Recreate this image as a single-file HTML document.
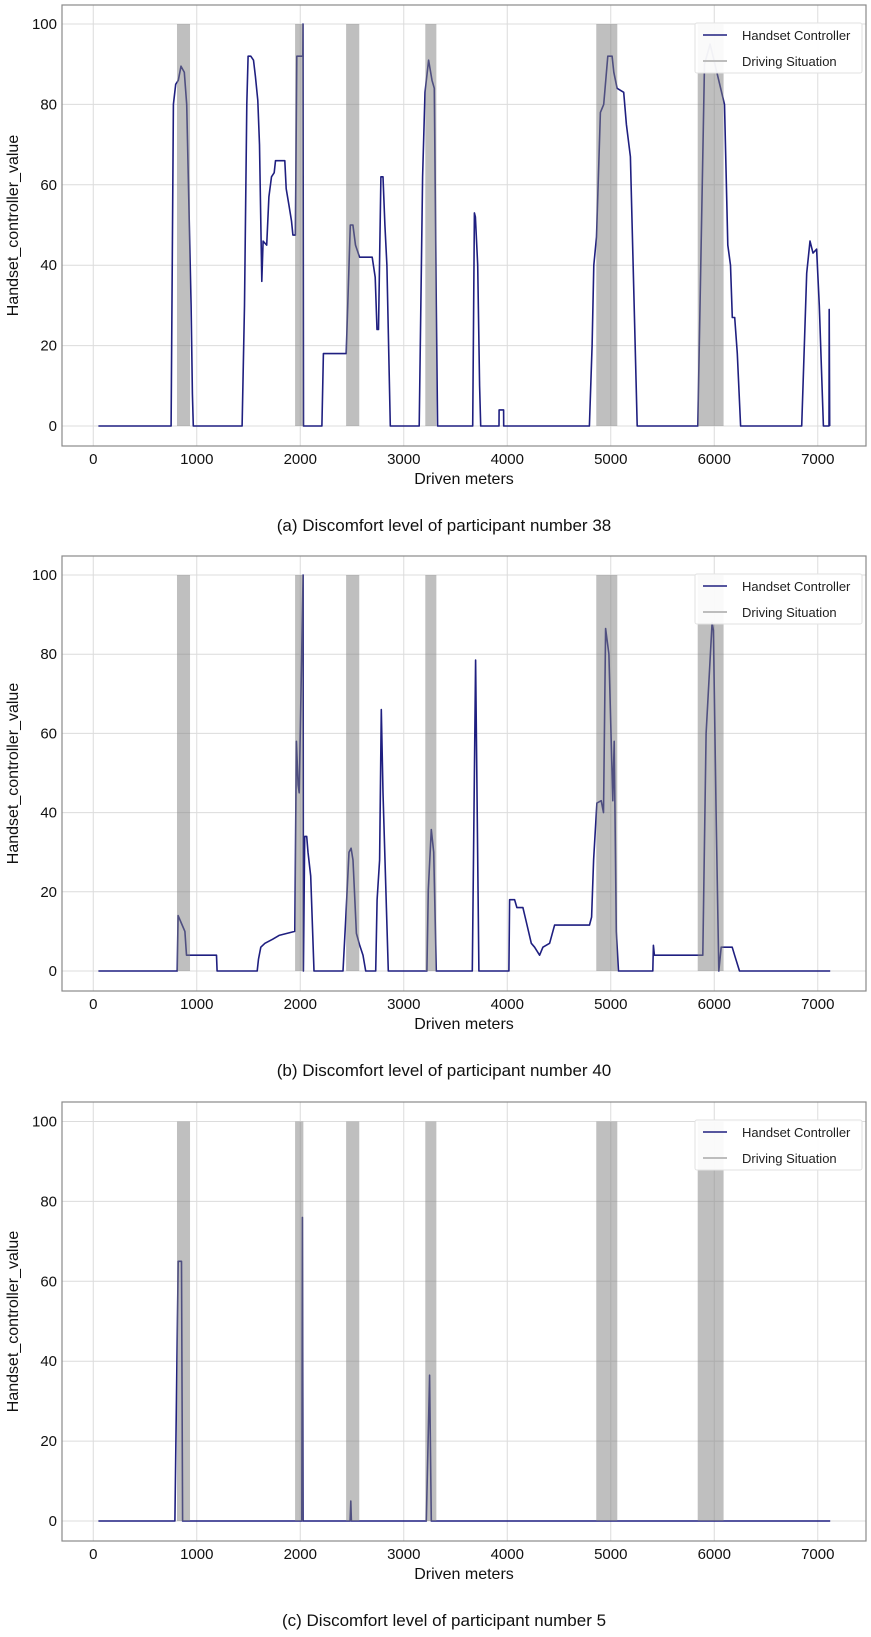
<!DOCTYPE html>
<html><head><meta charset="utf-8">
<style>
html,body{margin:0;padding:0;background:#fff;}
svg{display:block;font-family:"Liberation Sans",sans-serif;}
</style></head>
<body>
<svg id="fig" width="871" height="1637" viewBox="0 0 871 1637" xmlns="http://www.w3.org/2000/svg"></svg>
<script>
// shared data
const xTicks = [0,1000,2000,3000,4000,5000,6000,7000];
const yTicks = [0,20,40,60,80,100];
const bandStarts = [809,1950,2443,3208,4860,5840];
const bandEnds   = [935,2030,2570,3315,5063,6090];
const captions = ["(a) Discomfort level of participant number 38","(b) Discomfort level of participant number 40","(c) Discomfort level of participant number 5"];

const metersA = [50,752,774,797,822,848,880,903,945,958,967,1438,1461,1483,1496,1522,1548,1567,1590,1606,1628,1641,1676,1697,1722,1748,1761,1851,1864,1890,1915,1929,1953,1967,2025,2026,2031,2209,2224,2444,2483,2509,2534,2573,2695,2724,2741,2756,2779,2799,2818,2837,2870,3149,3160,3182,3205,3240,3273,3295,3314,3327,3666,3682,3692,3714,3733,3743,3920,3921,3965,3966,4794,4820,4836,4862,4900,4932,4971,5013,5029,5061,5125,5151,5190,5255,5841,5906,5960,6099,6131,6157,6174,6197,6223,6254,6845,6893,6925,6954,6989,7015,7054,7109,7110,7115];
const valuesA = [0,0,80,85,86,89.5,88,80,30,8,0,0,30,80,92,92,91,87,81,70,36,46,45,57,62,63,66,66,59,55,51,47.5,47.5,92,92,100,0,0,18,18,50,50,45,42,42,37,24,24,62,62,50,40,0,0,20,62,83,91,86,84,30,0,0,53,52,40,10,0,0,4,4,0,0,20,40,47,78,80,92,92,88,84,83,75,67,0,0,90,95,80,45,40,27,27,18,0,0,38,46,43,44,30,0,0,29,0];

const metersB = [50,811,820,853,885,901,1191,1197,1584,1597,1619,1658,1732,1796,1947,1963,1979,1990,2027,2030,2043,2062,2075,2101,2133,2413,2439,2471,2491,2510,2542,2574,2606,2632,2729,2742,2767,2783,2799,2832,2851,3224,3237,3266,3289,3314,3662,3694,3726,4016,4023,4071,4093,4151,4183,4232,4264,4312,4344,4409,4457,4795,4815,4834,4866,4908,4930,4950,4982,5020,5033,5053,5075,5406,5412,5422,5889,5921,5979,5992,6018,6044,6067,6173,6196,6244,7120];
const valuesB = [0,0,14,12,10,4,4,0,0,3,6,7,8,9,10,58,47,45,100,0,34,34,30,24,0,0,13,30,31,28,9.5,6.5,4,0,0,18,28,66,45,16,0,0,20.5,35.7,30,0,0,78.5,0,0,18,18,16,16,12.5,7,6,4,6,7,11.6,11.6,13.6,28,42.4,43,40,86.5,80,43,58,10,0,0,6.5,4,4,60,88,86,40,0,6,6,4,0,0];

const metersC = [50,789,821,853,863,2015,2021,2027,2482,2488,2494,3218,3250,3266,7120];
const valuesC = [0,0,65,65,0,0,76,0,0,5,0,0,36.5,0,0];

const panels = [
  {id:"a", meters:metersA, values:valuesA, top:5, bottom:446, y100:24, y0:426, bandTop6:100},
  {id:"b", meters:metersB, values:valuesB, top:556, bottom:991, y100:575, y0:971, bandTop6:100},
  {id:"c", meters:metersC, values:valuesC, top:1102, bottom:1541, y100:1121.5, y0:1521, bandTop6:100}
];

const NS = "http://www.w3.org/2000/svg";
const svg = document.getElementById("fig");
const L = 62, R = 866;
const xMin = -302, xMax = 7466;
function xs(m){ return L + (m - xMin) / (xMax - xMin) * (R - L); }
function mk(tag, attrs, parent){
  const e = document.createElementNS(NS, tag);
  for (const k in attrs) e.setAttribute(k, attrs[k]);
  (parent||svg).appendChild(e);
  return e;
}

panels.forEach((p, pi) => {
  const g = mk("g", {});
  
  
  const ys = v => p.y0 - v / 100 * (p.y0 - p.y100);

  // grid
  xTicks.forEach(t => {
    const l = mk("line", {x1:xs(t), x2:xs(t), y1:p.top, y2:p.bottom, stroke:"#dcdcdc", "stroke-width":1}, g);
    
    
    const tx = mk("text", {x:xs(t), y:p.bottom+18, "text-anchor":"middle", "font-size":15, fill:"#111"}, g);
    tx.textContent = t;
    
    
  });
  yTicks.forEach(t => {
    const l = mk("line", {x1:L, x2:R, y1:ys(t), y2:ys(t), stroke:"#dcdcdc", "stroke-width":1}, g);
    
    
    const tx = mk("text", {x:57, y:ys(t)+5, "text-anchor":"end", "font-size":15, fill:"#111"}, g);
    tx.textContent = t;
    
    
  });

  // line
  let d = "";
  p.meters.forEach((m, i) => { d += (i ? "L" : "M") + xs(m).toFixed(1) + " " + ys(p.values[i]).toFixed(1); });
  const line = mk("path", {d:d, fill:"none", stroke:"#1f1f80", "stroke-width":1.6, "stroke-linejoin":"round"}, g);
  
  

  // bands (semi-transparent on top)
  bandStarts.forEach((s, i) => {
    const r = mk("rect", {x:xs(s), y:ys(100), width:xs(bandEnds[i]) - xs(s), height:ys(0) - ys(100), fill:"#808080", "fill-opacity":0.5}, g);
    
    
  });

  // frame
  const fr = mk("rect", {x:L, y:p.top, width:R-L, height:p.bottom-p.top, fill:"none", stroke:"#8a8a8a", "stroke-width":1.2}, g);
  
  

  // legend
  const lg = mk("g", {}, g);
  
  
  const ly = p.top + 18;
  mk("rect", {x:695, y:ly, width:167, height:50, fill:"#fff", "fill-opacity":0.92, stroke:"#e2e2e2", rx:2}, lg);
  mk("line", {x1:703, x2:727, y1:ly+12, y2:ly+12, stroke:"#1f1f80", "stroke-width":1.6}, lg);
  mk("line", {x1:703, x2:727, y1:ly+38, y2:ly+38, stroke:"#bdbdbd", "stroke-width":2}, lg);
  const t1 = mk("text", {x:742, y:ly+17, "font-size":13, fill:"#222"}, lg);
  t1.textContent = "Handset Controller";
  
  
  const t2 = mk("text", {x:742, y:ly+43, "font-size":13, fill:"#222"}, lg);
  t2.textContent = "Driving Situation";
  
  

  // axis labels
  const xl = mk("text", {x:(L+R)/2, y:p.bottom+38, "text-anchor":"middle", "font-size":16, fill:"#111"}, g);
  xl.textContent = "Driven meters";
  
  
  const yc = (p.top + p.bottom) / 2;
  const yl = mk("text", {x:18, y:yc, "text-anchor":"middle", "font-size":16, fill:"#111", transform:"rotate(-90 18 " + yc + ")"}, g);
  yl.textContent = "Handset_controller_value";
  
  
  const cap = mk("text", {x:(L+R)/2 - 20, y:p.bottom+85, "text-anchor":"middle", "font-size":17, fill:"#111"}, g);
  cap.textContent = captions[pi];
  
  
});
</script>
</body></html>
